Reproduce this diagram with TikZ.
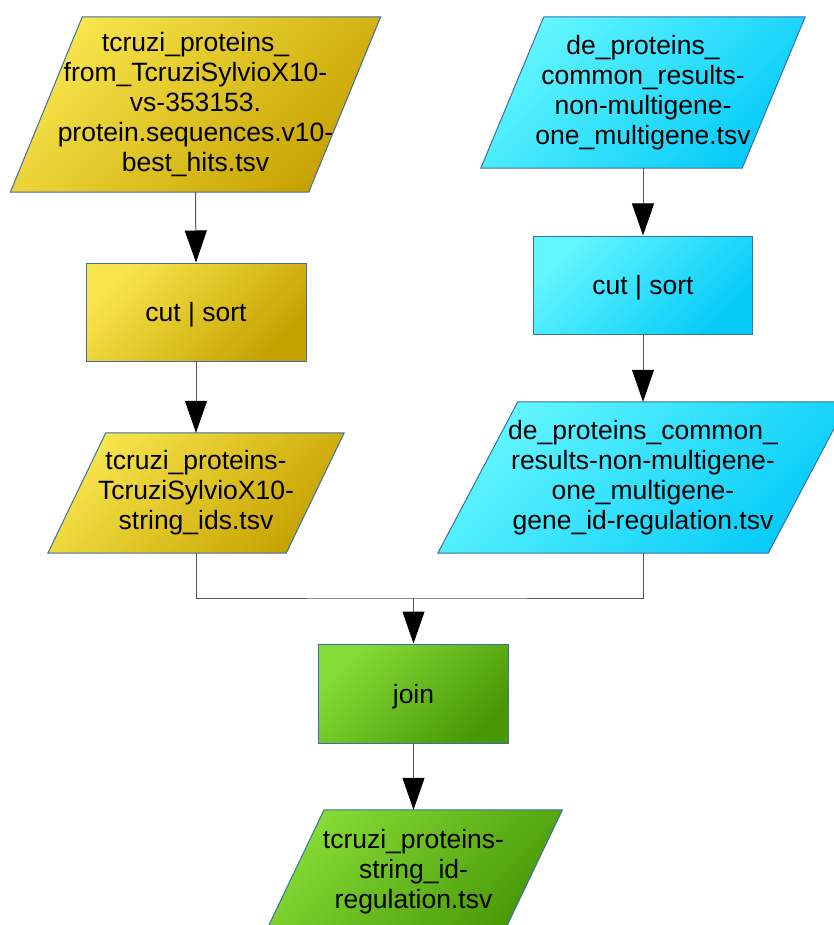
\documentclass[tikz,border=0pt]{standalone}
\usepackage{fontspec}
\setmainfont{Liberation Sans}
\usetikzlibrary{arrows.meta}
\pgfdeclarelayer{background}
\pgfsetlayers{background,main}

\definecolor{ylight}{HTML}{F8E54B}
\definecolor{ydark}{HTML}{C6A200}
\definecolor{clight}{HTML}{62F6FF}
\definecolor{cdark}{HTML}{06CBF8}
\definecolor{glight}{HTML}{86DC36}
\definecolor{gdark}{HTML}{489806}
\definecolor{edge}{HTML}{3A6FA8}
\definecolor{wire}{HTML}{555555}

\tikzset{
  txt/.style={inner sep=0pt, align=center, font=\fontsize{26.5}{30}\selectfont},
  slab/.style={txt, draw=none},
  procbox/.style={txt, draw=edge, line width=1pt, text depth=0pt},
  yfill/.style={top color=ylight, bottom color=ydark, shading angle=45},
  cfill/.style={top color=clight, bottom color=cdark, shading angle=45},
  gfill/.style={top color=glight, bottom color=gdark, shading angle=45},
  outline/.style={draw=edge, line width=1pt},
  flow/.style={draw=wire, line width=1pt,
    -{Triangle[length=32pt, width=22pt, color=black]}},
  link/.style={draw=wire, line width=1pt}
}

% data (parallelogram) shape drawn behind a plain text node:
% #1 node name, #2 horizontal slant offset, #3 fill style
\newcommand{\dataslab}[3]{%
  \begin{pgfonlayer}{background}
    \path[#3, outline]
      ([xshift=#2/2]#1.north west) -- ([xshift=#2/2]#1.north east) --
      ([xshift=-#2/2]#1.south east) -- ([xshift=-#2/2]#1.south west) -- cycle;
  \end{pgfonlayer}}

\begin{document}
\begin{tikzpicture}[x=1pt, y=-1pt]
\useasboundingbox (0,0) rectangle (834,925);

% left branch
\node[slab, minimum width=298pt, minimum height=175pt] (in1) at (195.5,104.5)
  {tcruzi\_proteins\_\\from\_TcruziSylvioX10-\\vs-353153.\\protein.sequences.v10-\\best\_hits.tsv};
\dataslab{in1}{72}{yfill}

\node[procbox, yfill, minimum width=220pt, minimum height=98pt] (cut1) at (196,312) {cut | sort};

\node[slab, minimum width=238pt, minimum height=120pt] (mid1) at (196,493)
  {tcruzi\_proteins-\\TcruziSylvioX10-\\string\_ids.tsv};
\dataslab{mid1}{58}{yfill}

% right branch
\node[slab, minimum width=261pt, minimum height=151pt] (in2) at (643,92.5)
  {de\_proteins\_\\common\_results-\\non-multigene-\\one\_multigene.tsv};
\dataslab{in2}{63}{cfill}

\node[procbox, cfill, minimum width=219pt, minimum height=98pt] (cut2) at (643,285) {cut | sort};

\node[slab, minimum width=330pt, minimum height=151pt] (mid2) at (643,477.5)
  {de\_proteins\_common\_\\results-non-multigene-\\one\_multigene-\\gene\_id-regulation.tsv};
\dataslab{mid2}{80}{cfill}

% merge and output
\node[procbox, gfill, minimum width=190pt, minimum height=99pt] (join) at (413.5,693.5) {join};

\node[slab, minimum width=238pt, minimum height=124pt] (out) at (413.5,872)
  {tcruzi\_proteins-\\string\_id-\\regulation.tsv};
\dataslab{out}{59.5}{gfill}

\coordinate (merge) at (413.5,598);

% connectors
\draw[flow] (in1.south) -- (cut1.north);
\draw[flow] (cut1.south) -- (mid1.north);
\draw[flow] (in2.south) -- (cut2.north);
\draw[flow] (cut2.south) -- (mid2.north);
\draw[link] (mid1.south) |- (merge) -| (mid2.south);
\draw[flow] (merge) -- (join.north);
\draw[flow] (join.south) -- (out.north);
\end{tikzpicture}
\end{document}
